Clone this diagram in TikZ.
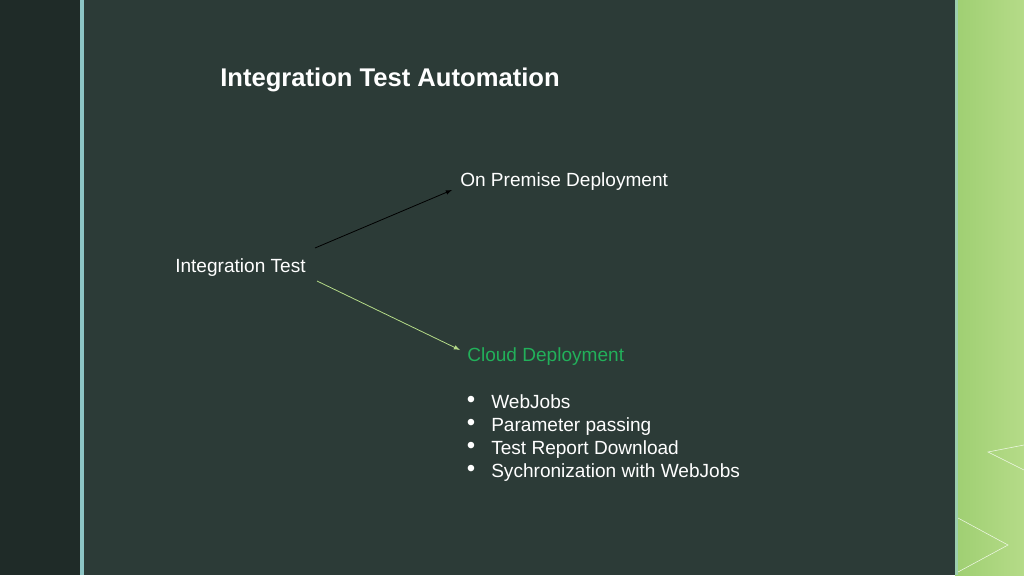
\documentclass[tikz,border=0pt]{standalone}
\usepackage{fontspec}
\setmainfont{Liberation Sans}
\usepackage{xcolor}
\definecolor{board}{HTML}{2C3B37}
\definecolor{side}{HTML}{1F2B28}
\definecolor{stripe}{HTML}{8CC4C4}
\definecolor{cloudgreen}{HTML}{22B05A}
\definecolor{lime}{HTML}{B5DB88}
\definecolor{limedark}{HTML}{9FCF72}
\begin{document}
\begin{tikzpicture}[x=0.75pt,y=-0.75pt]
 	\tikzstyle{every node}=[inner sep=0pt,text=white,font=\fontsize{14.3}{17}\selectfont]
 	\tikzstyle{item}=[anchor=base west]
 	\tikzstyle{dot}=[anchor=base,font=\fontsize{18}{20}\selectfont]
 	\useasboundingbox (0,0) rectangle (1024,575);
 	% background
 	\fill [board] (0,0) rectangle (1024,575);
 	\fill [side] (0,0) rectangle (80,575);
 	\fill [stripe] (80,0) rectangle (84,575);
 	\shade [left color=limedark,right color=lime] (955,0) rectangle (1024,575);
 	\fill [stripe!60!lime] (955,0) rectangle (958,575);
 	\draw [white!80!lime,line width=0.4pt] (1024,445) -- (988,452) -- (1024,470);
 	\draw [white!80!lime,line width=0.4pt] (958,518) -- (1008,545) -- (958,572);
 	% texts
 	\node [anchor=west,font=\bfseries\fontsize{19.2}{22}\selectfont] (title) at (220,80) {Integration Test Automation};
 	\node [anchor=west] (it) at (175,268) {Integration Test};
 	\node [anchor=west] (op) at (460,182) {On Premise Deployment};
 	\node [anchor=west,text=cloudgreen] (cd) at (467,357) {Cloud Deployment};
 	\foreach \y/\txt [count=\i] in {408/WebJobs,431/Parameter passing,454/Test Report Download,477/Sychronization with WebJobs} {
 	  \node [dot] (d\i) at (471,\y-1) {\textbullet};
 	  \node [item] (b\i) at (491,\y) {\txt};
 	}
 	% arrows
 	\coordinate (s1) at (315,248);
 	\coordinate (e1) at (452,190);
 	\coordinate (s2) at (317,281);
 	\coordinate (e2) at (460,350);
 	\draw [black,line width=0.6pt,-latex] (s1) -- (e1);
 	\draw [lime,line width=0.6pt,-latex] (s2) -- (e2);
\end{tikzpicture}
\end{document}
